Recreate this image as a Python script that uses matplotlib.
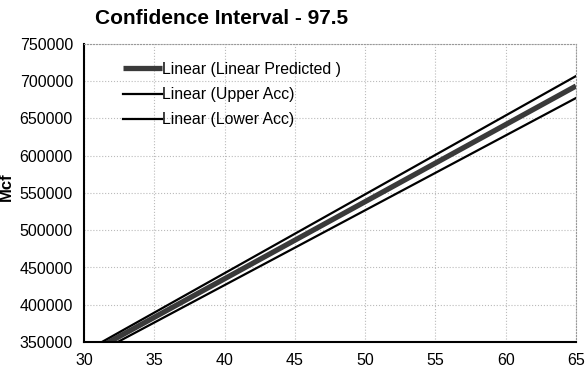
import numpy as np
import matplotlib.pyplot as plt

plt.rcParams['font.family'] = ['Liberation Sans', 'DejaVu Sans']

# trendline endpoints
x_ends = [30, 65]
predicted = [331400, 693600]
upper_acc = [336500, 707000]
lower_acc = [325900, 677500]

x_ticks = [30, 35, 40, 45, 50, 55, 60, 65]
y_ticks = [350000, 400000, 450000, 500000, 550000, 600000, 650000, 700000, 750000]

fig = plt.figure(figsize=(5.85, 3.77), dpi=100)
ax = fig.add_axes([84 / 585, 1 - 342 / 377, (576 - 84) / 585, (342 - 44) / 377])

ax.plot(x_ends, predicted, color='#3a3a3a', lw=3.8, label='Linear (Linear Predicted )', solid_capstyle='butt')
ax.plot(x_ends, upper_acc, color='black', lw=1.6, label='Linear (Upper Acc)')
ax.plot(x_ends, lower_acc, color='black', lw=1.6, label='Linear (Lower Acc)')

ax.set_xlim(30, 65)
ax.set_ylim(350000, 750000)
ax.set_xticks(x_ticks)
ax.set_yticks(y_ticks)
ax.tick_params(axis='both', length=0, labelsize=11.5, pad=8)
ax.ticklabel_format(style='plain', axis='y')
ax.grid(True, color='#bbbbbb', linestyle=':', linewidth=0.8)

for side in ['left', 'bottom']:
    ax.spines[side].set_linewidth(1.5)
for side in ['top', 'right']:
    ax.spines[side].set_color('#999999')
    ax.spines[side].set_linestyle(':')

ax.set_ylabel('Mcf', fontsize=12, fontweight='bold')
ax.yaxis.set_label_coords(-0.142, 0.52)

ax.legend(loc='upper left', bbox_to_anchor=(0.05, 0.988), frameon=False, fontsize=11.4,
          handlelength=2.5, handletextpad=0.0, labelspacing=0.65)

fig.text(95 / 585, 1 - 18 / 377, 'Confidence Interval - 97.5', fontsize=15,
         fontweight='bold', va='center', ha='left')

fig.savefig('out.png', dpi=100)
